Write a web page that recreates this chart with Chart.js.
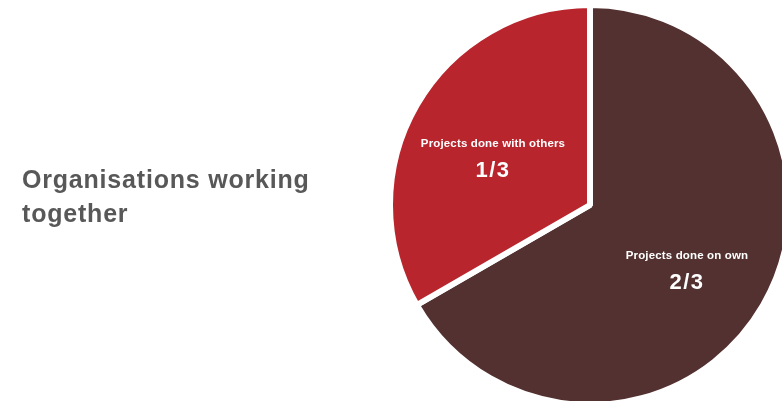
<!DOCTYPE html>
<html>
<head>
<meta charset="utf-8">
<script src="https://cdn.jsdelivr.net/npm/chart.js@4/dist/chart.umd.min.js"></script>
<style>
  html, body { margin: 0; padding: 0; background: #fff; overflow: hidden; }
  #wrap { position: relative; width: 782px; height: 401px; }
  #title {
    position: absolute; left: 22px; top: 162px;
    font-family: "Liberation Sans", Arial, sans-serif;
    font-weight: bold; font-size: 25px; line-height: 34px; letter-spacing: 0.8px; color: #585858;
  }
  canvas { position: absolute; left: 0; top: 0; }
</style>
</head>
<body>
<div id="wrap">
  <canvas id="pie" width="782" height="401"></canvas>
  <div id="title">Organisations working<br>together</div>
</div>
<script>
const categories = ['Projects done on own', 'Projects done with others']
const shares = [2, 1]
const shareLabels = ['2/3', '1/3']
const colours = ['#523130', '#B9252D']

// writes the category and the fraction inside each slice
const sliceLabels = {
  id: 'sliceLabels',
  afterDatasetsDraw(chart) {
    const ctx = chart.ctx
    const meta = chart.getDatasetMeta(0)
    meta.data.forEach((arc, i) => {
      const p = arc.getProps(['x', 'y', 'startAngle', 'endAngle', 'outerRadius'], true)
      const mid = (p.startAngle + p.endAngle) / 2
      const r = p.outerRadius * 0.56
      const x = p.x + Math.cos(mid) * r
      const y = p.y + Math.sin(mid) * r
      ctx.save()
      ctx.fillStyle = '#fff'
      ctx.textAlign = 'center'
      ctx.textBaseline = 'middle'
      ctx.letterSpacing = '0.15px'
      ctx.font = 'bold 11.5px "Liberation Sans", Arial, sans-serif'
      ctx.fillText(chart.data.labels[i], x, y - 5)
      ctx.letterSpacing = '1.5px'
      ctx.font = 'bold 22px "Liberation Sans", Arial, sans-serif'
      ctx.fillText(shareLabels[i], x, y + 22)
      ctx.restore()
    })
  }
}

const ctx = document.querySelector('#pie')
const shareChart = new Chart(ctx, {
  type: 'pie',
  data: {
    labels: categories,
    datasets: [{
      data: shares,
      backgroundColor: colours,
      borderColor: '#fff',
      borderWidth: 6,
      radius: 200
    }]
  },
  options: {
    responsive: false,
    animation: false,
    layout: { padding: { left: 398, right: 0, top: 9, bottom: 0 } },
    plugins: {
      legend: { display: false },
      tooltip: { enabled: false }
    }
  },
  plugins: [sliceLabels]
})
</script>
</body>
</html>
